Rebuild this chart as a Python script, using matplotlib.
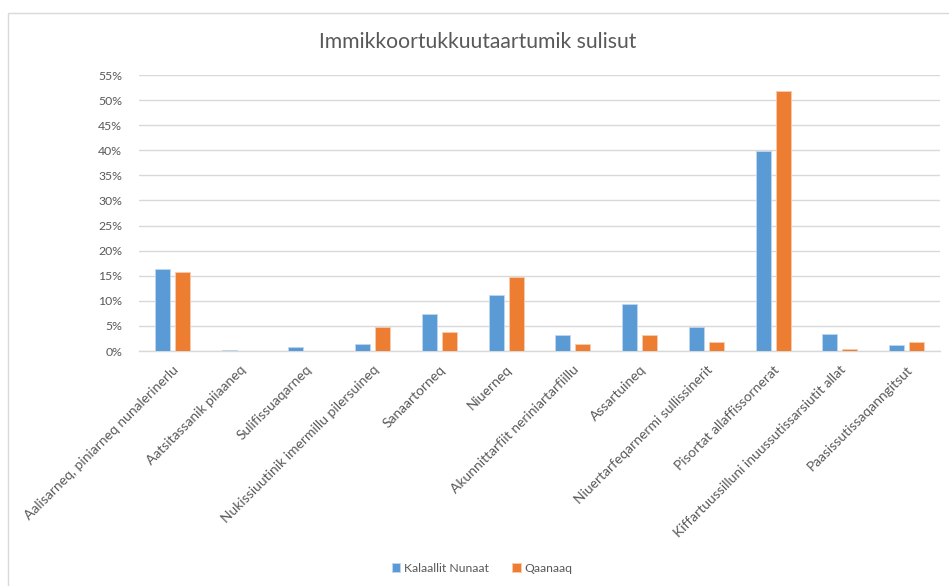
import matplotlib.pyplot as plt
import numpy as np
from matplotlib.patches import Rectangle
from matplotlib.ticker import FuncFormatter, MultipleLocator

categories = [
    'Aalisarneq, piniarneq nunalerinerlu',
    'Aatsitassanik piiaaneq',
    'Sulifissuaqarneq',
    'Nukissiuutinik imermillu pilersuineq',
    'Sanaartorneq',
    'Niuerneq',
    'Akunnittarfiit neriniartarfiillu',
    'Assartuineq',
    'Niuertarfeqarnermi sullissinerit',
    'Pisortat allaffissornerat',
    'Kiffartuussilluni inuussutissarsiutit allat',
    'Paasissutissaqanngitsut',
]
kalaallit = [16.4, 0.2, 0.8, 1.4, 7.4, 11.1, 3.1, 9.4, 4.8, 39.8, 3.4, 1.1]
qaanaaq = [15.7, 0.0, 0.0, 4.8, 3.8, 14.8, 1.4, 3.1, 1.8, 51.8, 0.4, 1.8]
series_names = ['Kalaallit Nunaat', 'Qaanaaq']
title = 'Immikkoortukkuutaartumik sulisut'

plt.rcParams['font.family'] = ['Lato', 'DejaVu Sans']
txt = '#595959'
grid = '#D9D9D9'

fig = plt.figure(figsize=(9.49, 5.86), dpi=100)
W, H = 949, 586

# chart area border
fig.patches.append(Rectangle((8 / W, -0.1), 1.2, 1 - 13 / H + 0.1,
                             transform=fig.transFigure, fill=False,
                             edgecolor=grid, linewidth=1))

ax = fig.add_axes([139 / W, 1 - 351 / H, (940 - 139) / W, (351 - 75) / H])

x = np.arange(len(categories))
w = 0.225
off = 0.15
b1 = ax.bar(x - off, kalaallit, w, color='#5B9BD5', edgecolor='#BDD7EE',
            linewidth=0.6, label=series_names[0], zorder=3)
b2 = ax.bar(x + off, qaanaaq, w, color='#ED7D31', edgecolor='#F8CBAD',
            linewidth=0.6, label=series_names[1], zorder=3)

ax.set_xlim(-0.5, len(categories) - 0.5)
ax.set_ylim(0, 55)
ax.yaxis.set_major_locator(MultipleLocator(5))
ax.yaxis.set_major_formatter(FuncFormatter(lambda v, p: f'{v:.0f}%'))
ax.grid(axis='y', color=grid, linewidth=1, zorder=0)
ax.set_axisbelow(True)
for s in ['top', 'right', 'left']:
    ax.spines[s].set_visible(False)
ax.spines['bottom'].set_color(grid)
ax.spines['bottom'].set_linewidth(1)
ax.tick_params(axis='y', length=0, pad=12, labelcolor=txt, labelsize=8.8)
ax.tick_params(axis='x', length=0, pad=9, labelcolor=txt, labelsize=10)
ax.set_xticks(x)
ax.set_xticklabels(categories, rotation=45, ha='right', va='top',
                   rotation_mode='anchor')

fig.text(478 / W, 1 - 42 / H, title, ha='center', va='center',
         fontsize=15.2, color=txt)

fig.legend(handles=[b1, b2], loc='center', bbox_to_anchor=(482 / W, 1 - 568 / H),
           ncol=2, frameon=False, fontsize=8.8, labelcolor=txt,
           handlelength=0.7, handleheight=0.7, handletextpad=0.3,
           columnspacing=1.9)

fig.savefig('out.png', dpi=100)
